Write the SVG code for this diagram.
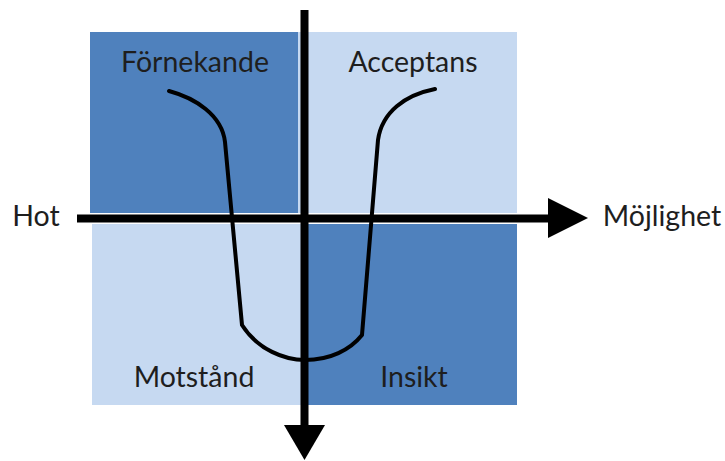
<svg xmlns="http://www.w3.org/2000/svg" width="725" height="461" viewBox="0 0 725 461">
  <style>
    .dark { fill: #4f81bd; }
    .light { fill: #c6d9f1; }
    .label { font-family: Lato, "Open Sans", sans-serif; font-size: 28.5px; fill: #1e1e1e; text-anchor: middle; }
    .axis { stroke: #000; stroke-width: 8; fill: none; }
    .curve { stroke: #000; stroke-width: 4; fill: none; stroke-linecap: round; stroke-linejoin: round; }
    .head { fill: #000; }
  </style>

  <!-- quadrants -->
  <g id="q-fornekande">
    <rect class="dark" x="90" y="32" width="208" height="181"/>
    <text class="label" x="195" y="72">Förnekande</text>
  </g>
  <g id="q-acceptans">
    <rect class="light" x="298" y="32" width="219" height="181"/>
    <text class="label" x="413" y="72">Acceptans</text>
  </g>
  <g id="q-motstand">
    <rect class="light" x="92" y="224" width="213" height="181"/>
    <text class="label" x="194" y="387">Motstånd</text>
  </g>
  <g id="q-insikt">
    <rect class="dark" x="304" y="224" width="213" height="181"/>
    <text class="label" x="414" y="387">Insikt</text>
  </g>

  <!-- axes, change curve -->
  <g id="connectors">
    <path class="axis" d="M77,218.5 H550"/>
    <polygon class="head" points="548,198 588,218 548,238"/>
    <path class="axis" d="M304.5,10 V427"/>
    <polygon class="head" points="284,425 325,425 304.5,460"/>
    <path class="curve" d="M169,91 C195,98 222,115 225,142 L242,325 C258,350 285,360 305,360 C330,360 350,350 362,335 L378,140 C382,112 405,95 435,89"/>
  </g>

  <g id="axis-labels">
    <text class="label" x="36" y="226">Hot</text>
    <text class="label" x="662" y="226">Möjlighet</text>
  </g>
</svg>
